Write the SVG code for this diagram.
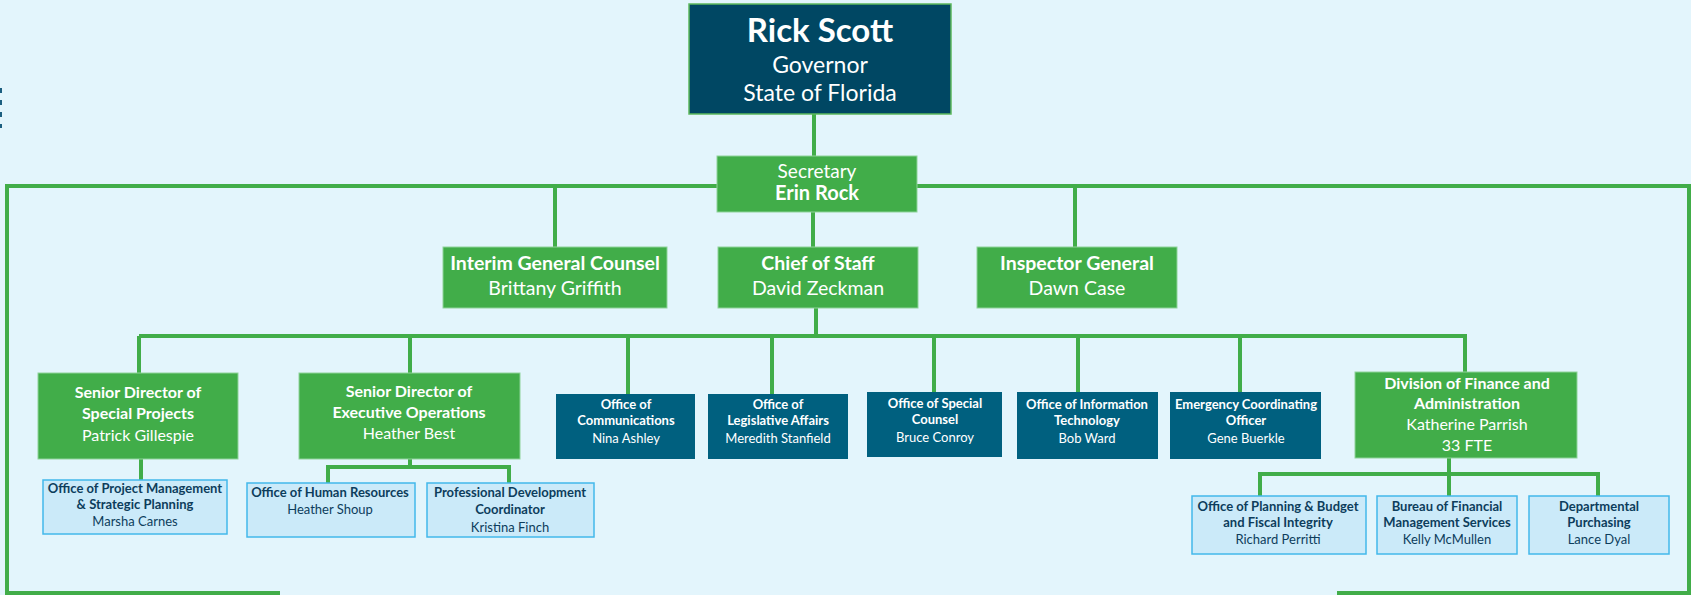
<svg xmlns="http://www.w3.org/2000/svg" width="1691" height="595" viewBox="0 0 1691 595">
<defs>
<style>
text{font-family:Lato,"Open Sans","Liberation Sans",sans-serif;text-anchor:middle}
.w{fill:#ffffff}
.d{fill:#0d3d5c}
.b{font-weight:bold}
.gov{fill:#004763;stroke:#5cb85c;stroke-width:1.5}
.grn{fill:#41ad49;stroke:#8fd39a;stroke-width:1}
.tl{fill:#00607f}
.lb{fill:#cbeaf9;stroke:#43b8ea;stroke-width:1.5}
.ln{fill:none;stroke:#41ad49;stroke-width:4}
.s2{font-size:19.5px}
.s3{font-size:16px}
.st{font-size:13px}
.sl{font-size:13px}
</style>
</defs>
<rect x="0" y="0" width="1691" height="595" fill="#e3f5fc"/>
<line x1="1" y1="88" x2="1" y2="128" stroke="#1c5f80" stroke-width="2" stroke-dasharray="5,7"/>
<g id="connectors">
<polyline class="ln" points="280,593 7,593 7,186 1689,186 1689,593 1337,593"/>
<line class="ln" x1="814" y1="114" x2="814" y2="156"/>
<line class="ln" x1="555" y1="186" x2="555" y2="247"/>
<line class="ln" x1="813" y1="212" x2="813" y2="247"/>
<line class="ln" x1="1075" y1="186" x2="1075" y2="247"/>
<line class="ln" x1="816" y1="308" x2="816" y2="336"/>
<line class="ln" x1="139" y1="336" x2="1467" y2="336"/>
<line class="ln" x1="139" y1="336" x2="139" y2="373"/>
<line class="ln" x1="410" y1="336" x2="410" y2="373"/>
<line class="ln" x1="628" y1="336" x2="628" y2="394"/>
<line class="ln" x1="772" y1="336" x2="772" y2="394"/>
<line class="ln" x1="934" y1="336" x2="934" y2="392"/>
<line class="ln" x1="1078" y1="336" x2="1078" y2="392"/>
<line class="ln" x1="1240" y1="336" x2="1240" y2="392"/>
<line class="ln" x1="1465" y1="336" x2="1465" y2="372"/>
<line class="ln" x1="141" y1="459" x2="141" y2="480"/>
<polyline class="ln" points="328,483 328,467 509,467 509,483"/>
<line class="ln" x1="410" y1="459" x2="410" y2="467"/>
<line class="ln" x1="1449" y1="458" x2="1449" y2="496"/>
<polyline class="ln" points="1260,496 1260,474 1598,474 1598,496"/>
</g>
<g id="governor">
<rect class="gov" x="689" y="4" width="262" height="110"/>
<text class="w b" x="820" y="42" font-size="33">Rick Scott</text>
<text class="w" x="820" y="73" font-size="23">Governor</text>
<text class="w" x="820" y="101" font-size="23">State of Florida</text>
</g>
<g id="secretary">
<rect class="grn" x="717" y="156" width="200" height="56"/>
<text class="w" x="817" y="178" font-size="19">Secretary</text>
<text class="w b" x="817" y="200" font-size="20">Erin Rock</text>
</g>
<g id="general-counsel">
<rect class="grn" x="443" y="247" width="224" height="61"/>
<text class="w b s2" x="555" y="270">Interim General Counsel</text>
<text class="w s2" x="555" y="295">Brittany Griffith</text>
</g>
<g id="chief-of-staff">
<rect class="grn" x="718" y="247" width="200" height="61"/>
<text class="w b s2" x="818" y="270">Chief of Staff</text>
<text class="w s2" x="818" y="295">David Zeckman</text>
</g>
<g id="inspector-general">
<rect class="grn" x="977" y="247" width="200" height="61"/>
<text class="w b s2" x="1077" y="270">Inspector General</text>
<text class="w s2" x="1077" y="295">Dawn Case</text>
</g>
<g id="special-projects">
<rect class="grn" x="38" y="373" width="200" height="86"/>
<text class="w b s3" x="138" y="398">Senior Director of</text>
<text class="w b s3" x="138" y="419">Special Projects</text>
<text class="w s3" x="138" y="441">Patrick Gillespie</text>
</g>
<g id="executive-operations">
<rect class="grn" x="299" y="373" width="221" height="86"/>
<text class="w b s3" x="409" y="397">Senior Director of</text>
<text class="w b s3" x="409" y="418">Executive Operations</text>
<text class="w s3" x="409" y="439">Heather Best</text>
</g>
<g id="communications">
<rect class="tl" x="556" y="394" width="139" height="65"/>
<text class="w b st" x="626" y="409">Office of</text>
<text class="w b st" x="626" y="425">Communications</text>
<text class="w st" x="626" y="443">Nina Ashley</text>
</g>
<g id="legislative-affairs">
<rect class="tl" x="708" y="394" width="140" height="65"/>
<text class="w b st" x="778" y="409">Office of</text>
<text class="w b st" x="778" y="425">Legislative Affairs</text>
<text class="w st" x="778" y="443">Meredith Stanfield</text>
</g>
<g id="special-counsel">
<rect class="tl" x="867" y="392" width="135" height="65"/>
<text class="w b st" x="935" y="408">Office of Special</text>
<text class="w b st" x="935" y="424">Counsel</text>
<text class="w st" x="935" y="442">Bruce Conroy</text>
</g>
<g id="information-technology">
<rect class="tl" x="1017" y="392" width="141" height="67"/>
<text class="w b st" x="1087" y="409">Office of Information</text>
<text class="w b st" x="1087" y="425">Technology</text>
<text class="w st" x="1087" y="443">Bob Ward</text>
</g>
<g id="emergency-coordinating">
<rect class="tl" x="1170" y="392" width="151" height="67"/>
<text class="w b st" x="1246" y="409">Emergency Coordinating</text>
<text class="w b st" x="1246" y="425">Officer</text>
<text class="w st" x="1246" y="443">Gene Buerkle</text>
</g>
<g id="finance-administration">
<rect class="grn" x="1355" y="372" width="222" height="86"/>
<text class="w b s3" x="1467" y="389">Division of Finance and</text>
<text class="w b s3" x="1467" y="409">Administration</text>
<text class="w s3" x="1467" y="430">Katherine Parrish</text>
<text class="w s3" x="1467" y="451">33 FTE</text>
</g>
<g id="project-management">
<rect class="lb" x="43" y="480" width="184" height="54"/>
<text class="d b sl" x="135" y="493">Office of Project Management</text>
<text class="d b sl" x="135" y="509">&amp; Strategic Planning</text>
<text class="d sl" x="135" y="526">Marsha Carnes</text>
</g>
<g id="human-resources">
<rect class="lb" x="247" y="483" width="168" height="54"/>
<text class="d b sl" x="330" y="497">Office of Human Resources</text>
<text class="d sl" x="330" y="514">Heather Shoup</text>
</g>
<g id="professional-development">
<rect class="lb" x="427" y="483" width="167" height="54"/>
<text class="d b sl" x="510" y="497">Professional Development</text>
<text class="d b sl" x="510" y="514">Coordinator</text>
<text class="d sl" x="510" y="532">Kristina Finch</text>
</g>
<g id="planning-budget">
<rect class="lb" x="1192" y="496" width="174" height="58"/>
<text class="d b sl" x="1278" y="511">Office of Planning &amp; Budget</text>
<text class="d b sl" x="1278" y="527">and Fiscal Integrity</text>
<text class="d sl" x="1278" y="544">Richard Perritti</text>
</g>
<g id="financial-management">
<rect class="lb" x="1377" y="496" width="140" height="58"/>
<text class="d b sl" x="1447" y="511">Bureau of Financial</text>
<text class="d b sl" x="1447" y="527">Management Services</text>
<text class="d sl" x="1447" y="544">Kelly McMullen</text>
</g>
<g id="purchasing">
<rect class="lb" x="1529" y="496" width="140" height="58"/>
<text class="d b sl" x="1599" y="511">Departmental</text>
<text class="d b sl" x="1599" y="527">Purchasing</text>
<text class="d sl" x="1599" y="544">Lance Dyal</text>
</g>
</svg>
